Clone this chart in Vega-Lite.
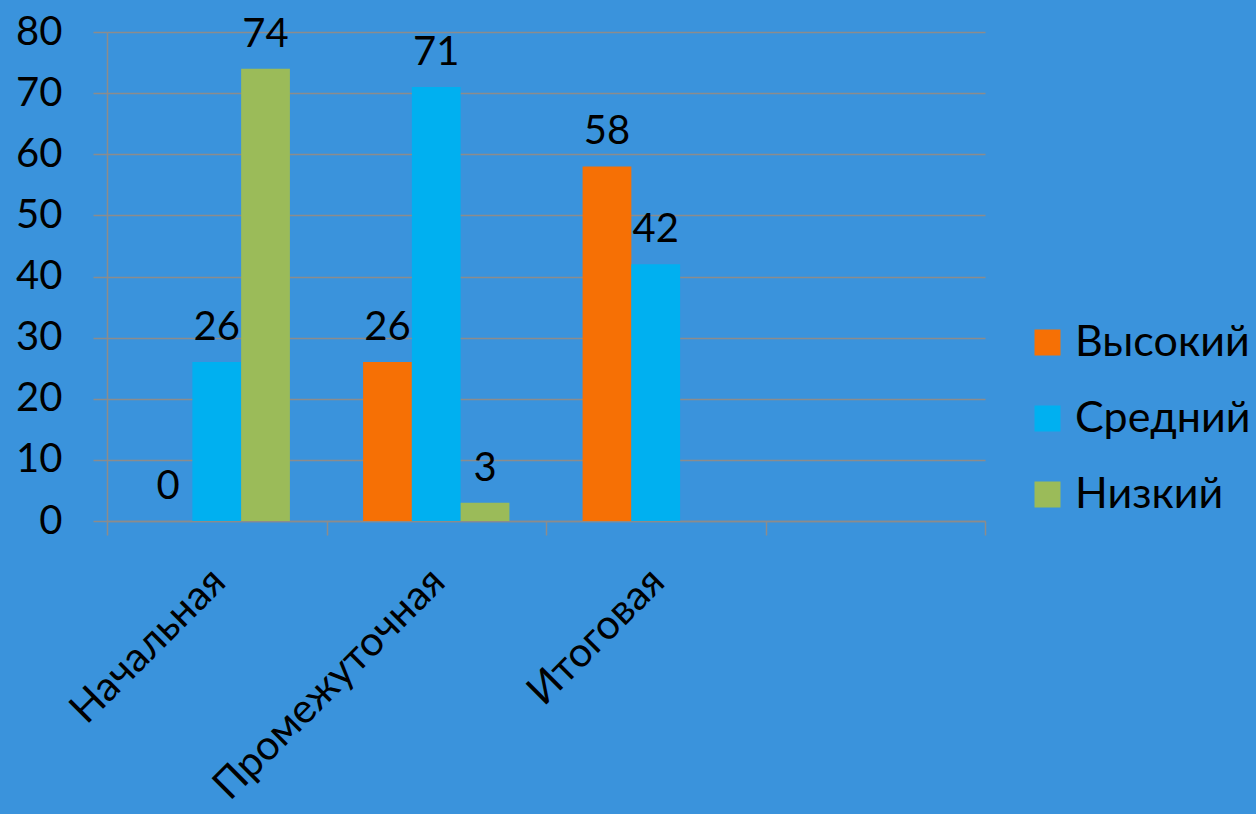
{
  "$schema": "https://vega.github.io/schema/vega-lite/v6.json",
  "autosize": {"type": "none"},
  "width": 878,
  "height": 489,
  "padding": {"left": 107, "top": 32, "right": 271, "bottom": 293},
  "background": "#3a93dc",
  "config": {
    "font": "Lato",
    "view": {"stroke": null},
    "axis": {"labelColor": "#000000", "labelFont": "Lato", "labelFontSize": 40, "labelLimit": 0, "domainColor": "#8c8c8c", "tickColor": "#8c8c8c", "gridColor": "#8c8c8c", "tickSize": 14, "domainWidth": 1.5, "tickWidth": 1.5, "gridWidth": 1.5}
  },
  "data": {
    "values": [
      {"stage": "Начальная", "level": "Высокий", "value": 0},
      {"stage": "Начальная", "level": "Средний", "value": 26},
      {"stage": "Начальная", "level": "Низкий", "value": 74},
      {"stage": "Промежуточная", "level": "Высокий", "value": 26},
      {"stage": "Промежуточная", "level": "Средний", "value": 71},
      {"stage": "Промежуточная", "level": "Низкий", "value": 3},
      {"stage": "Итоговая", "level": "Высокий", "value": 58},
      {"stage": "Итоговая", "level": "Средний", "value": 42}
    ]
  },
  "encoding": {
    "x": {
      "field": "stage", "type": "nominal",
      "scale": {"domain": ["Начальная", "Промежуточная", "Итоговая", " "], "paddingInner": 0, "paddingOuter": 0},
      "axis": {"title": null, "labelAngle": -45, "labelFontSize": 41, "tickBand": "extent", "grid": false, "labelPadding": 26, "labelOffset": -12, "labelBaseline": "top", "labelAlign": "right"}
    },
    "xOffset": {"field": "level", "type": "nominal", "scale": {"domain": ["Высокий", "Средний", "Низкий"], "paddingInner": 0, "paddingOuter": 0.75}},
    "y": {
      "field": "value", "type": "quantitative",
      "scale": {"domain": [0, 80], "nice": false},
      "axis": {"title": null, "values": [0, 10, 20, 30, 40, 50, 60, 70, 80], "labelPadding": 31, "grid": true, "domain": true}
    }
  },
  "layer": [
    {
      "mark": {"type": "bar"},
      "encoding": {
        "color": {
          "field": "level", "type": "nominal",
          "scale": {"domain": ["Высокий", "Средний", "Низкий"], "range": ["#f67005", "#00b0f0", "#9bbb59"]},
          "legend": {"title": null, "orient": "none", "legendX": 919, "legendY": 289, "symbolType": "square", "symbolSize": 676, "symbolStrokeWidth": 0, "labelFontSize": 43, "labelFont": "Lato", "labelColor": "#000000", "labelLimit": 0, "rowPadding": 32, "labelOffset": 6, "symbolOpacity": 1}
        }
      }
    },
    {
      "mark": {"type": "text", "baseline": "alphabetic", "dy": -22, "fontSize": 40, "font": "Lato", "color": "#000000"},
      "encoding": {"text": {"field": "value", "type": "quantitative"}}
    }
  ]
}
